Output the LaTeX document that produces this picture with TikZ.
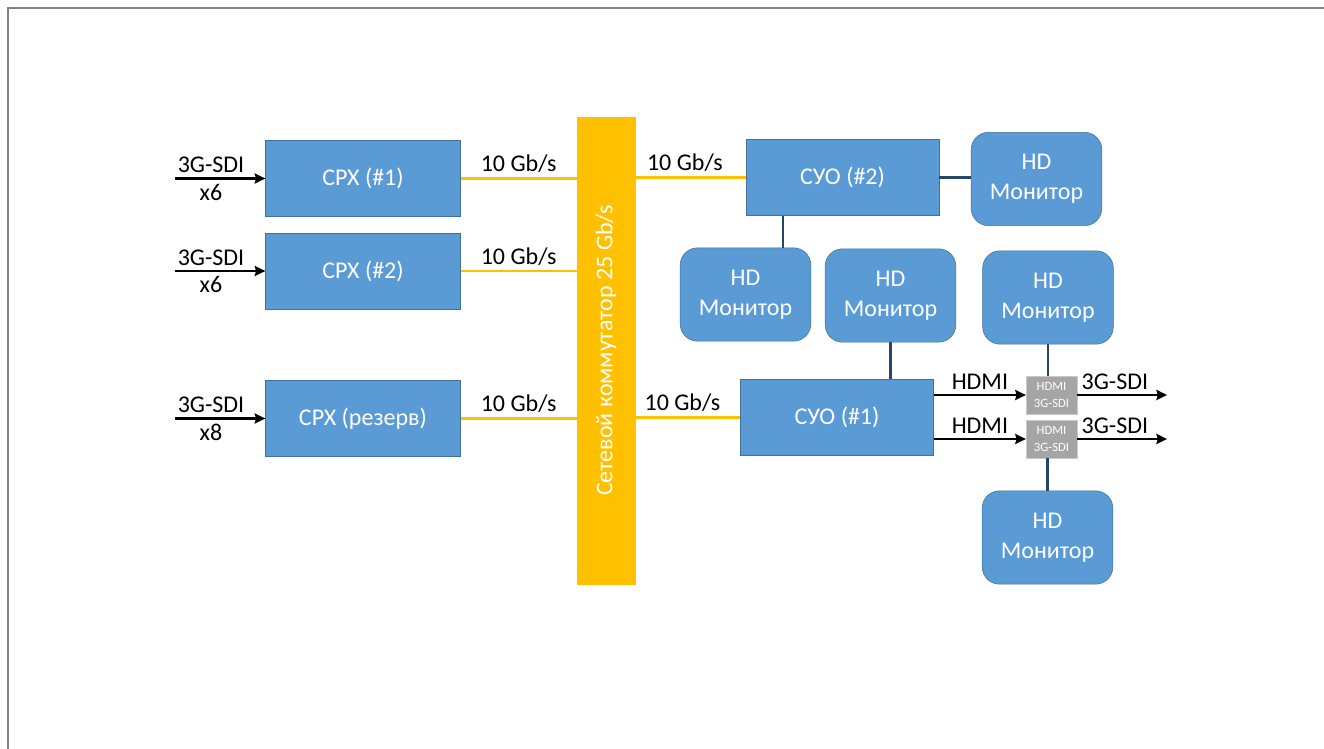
\documentclass[tikz,border=0pt]{standalone}
\usepackage{fontspec}
\setmainfont{Carlito}
\usepackage{xcolor}
\usepackage{tikz}
\usetikzlibrary{arrows.meta}
\definecolor{boxblue}{HTML}{5B9BD5}
\definecolor{boxline}{HTML}{41719C}
\definecolor{swyellow}{HTML}{FFC000}
\definecolor{linkblue}{HTML}{25476A}
\definecolor{convgray}{HTML}{A5A5A5}
\definecolor{framegray}{HTML}{808080}

\begin{document}
\begin{tikzpicture}[x=0.75pt, y=-0.75pt, >={Stealth[length=8pt,width=7.5pt,inset=1pt]},
  unit/.style={draw=boxline, fill=boxblue, text=white, align=center, inner sep=0pt,
    font=\fontsize{18}{22.5}\selectfont},
  srx/.style={unit, minimum width=146pt, minimum height=57pt},
  suo/.style={unit, minimum width=145pt, minimum height=57pt},
  mon/.style={unit, rounded corners=13pt, minimum width=98pt, minimum height=70pt},
  conv/.style={draw=convgray!60!white, fill=convgray, text=white, align=center, inner sep=0pt,
    minimum width=38pt, minimum height=28.5pt, font=\fontsize{9.5}{13}\selectfont},
  gbit/.style={swyellow, line width=2.2pt},
  wire/.style={linkblue, line width=2.2pt},
  sig/.style={->, black, line width=2pt},
  lbl/.style={black, font=\fontsize{18}{22}\selectfont}]
  \useasboundingbox (0,0) rectangle (1324,749);
  \draw[framegray, line width=1.5pt] (8.3,749) -- (8.3,8.3) -- (1324,8.3);

  \node[srx] (srx1) at (363,178.5) {СРХ (\#1)};
  \node[srx] (srx2) at (363,271) {СРХ (\#2)};
  \node[srx] (srx3) at (363,418.5) {СРХ (резерв)};
  \node[draw=swyellow, fill=swyellow, minimum width=43.5pt, minimum height=350pt, inner sep=0pt]
    (sw) at (606,350.5) {};
  \node[text=white, rotate=90, font=\fontsize{18}{22}\selectfont] at (sw.center) {Сетевой коммутатор 25 Gb/s};
  \node[suo] (suo2) at (842.5,177.5) {СУО (\#2)};
  \node[suo] (suo1) at (837,417.5) {СУО (\#1)};
  \node[mon] (mon0) at (1036.5,179) {HD\\Монитор};
  \node[mon] (mon1) at (745.5,294.5) {HD\\Монитор};
  \node[mon] (mon2) at (890.5,295.5) {HD\\Монитор};
  \node[mon] (mon3) at (1048,297.5) {HD\\Монитор};
  \node[mon] (mon4) at (1047.5,537.5) {HD\\Монитор};
  \node[conv] (conv1) at (1051.5,395) {HDMI\\3G-SDI};
  \node[conv] (conv2) at (1051.5,439) {HDMI\\3G-SDI};

  \draw[sig] ([xshift=-68pt]srx1.west) -- node[lbl, pos=0.4, above]{3G-SDI} node[lbl, pos=0.4, below]{x6} (srx1.west);
  \draw[sig] ([xshift=-68pt]srx2.west) -- node[lbl, pos=0.4, above]{3G-SDI} node[lbl, pos=0.4, below]{x6} (srx2.west);
  \draw[sig] ([xshift=-68pt]srx3.west) -- node[lbl, pos=0.4, above]{3G-SDI} node[lbl, pos=0.4, below]{x8} (srx3.west);

  \draw[gbit] (srx1.east) -- node[lbl, above]{10 Gb/s} (srx1.east -| sw.west);
  \draw[gbit] (srx2.east) -- node[lbl, above]{10 Gb/s} (srx2.east -| sw.west);
  \draw[gbit] (srx3.east) -- node[lbl, above]{10 Gb/s} (srx3.east -| sw.west);
  \draw[gbit] (sw.east |- suo2.west) -- node[lbl, above, pos=0.45]{10 Gb/s} (suo2.west);
  \draw[gbit] (sw.east |- suo1.west) -- node[lbl, above, pos=0.45]{10 Gb/s} (suo1.west);

  \draw[wire] (suo2.east) -- (suo2.east -| mon0.west);
  \draw[wire] (783,0 |- suo2.south) -- (783,0 |- mon1.north);
  \draw[wire] (mon2.south) -- (mon2.south |- suo1.north);
  \draw[wire] (mon3.south) -- (mon3.south |- conv1.north);
  \draw[wire] (mon4.north) -- (mon4.north |- conv2.south);

  \draw[sig] (suo1.east |- conv1.west) -- node[lbl, above]{HDMI} (conv1.west);
  \draw[sig] (suo1.east |- conv2.west) -- node[lbl, above]{HDMI} (conv2.west);
  \draw[sig] (conv1.east) -- node[lbl, above, pos=0.42]{3G-SDI} ([xshift=67.5pt]conv1.east);
  \draw[sig] (conv2.east) -- node[lbl, above, pos=0.42]{3G-SDI} ([xshift=67.5pt]conv2.east);
\end{tikzpicture}
\end{document}
